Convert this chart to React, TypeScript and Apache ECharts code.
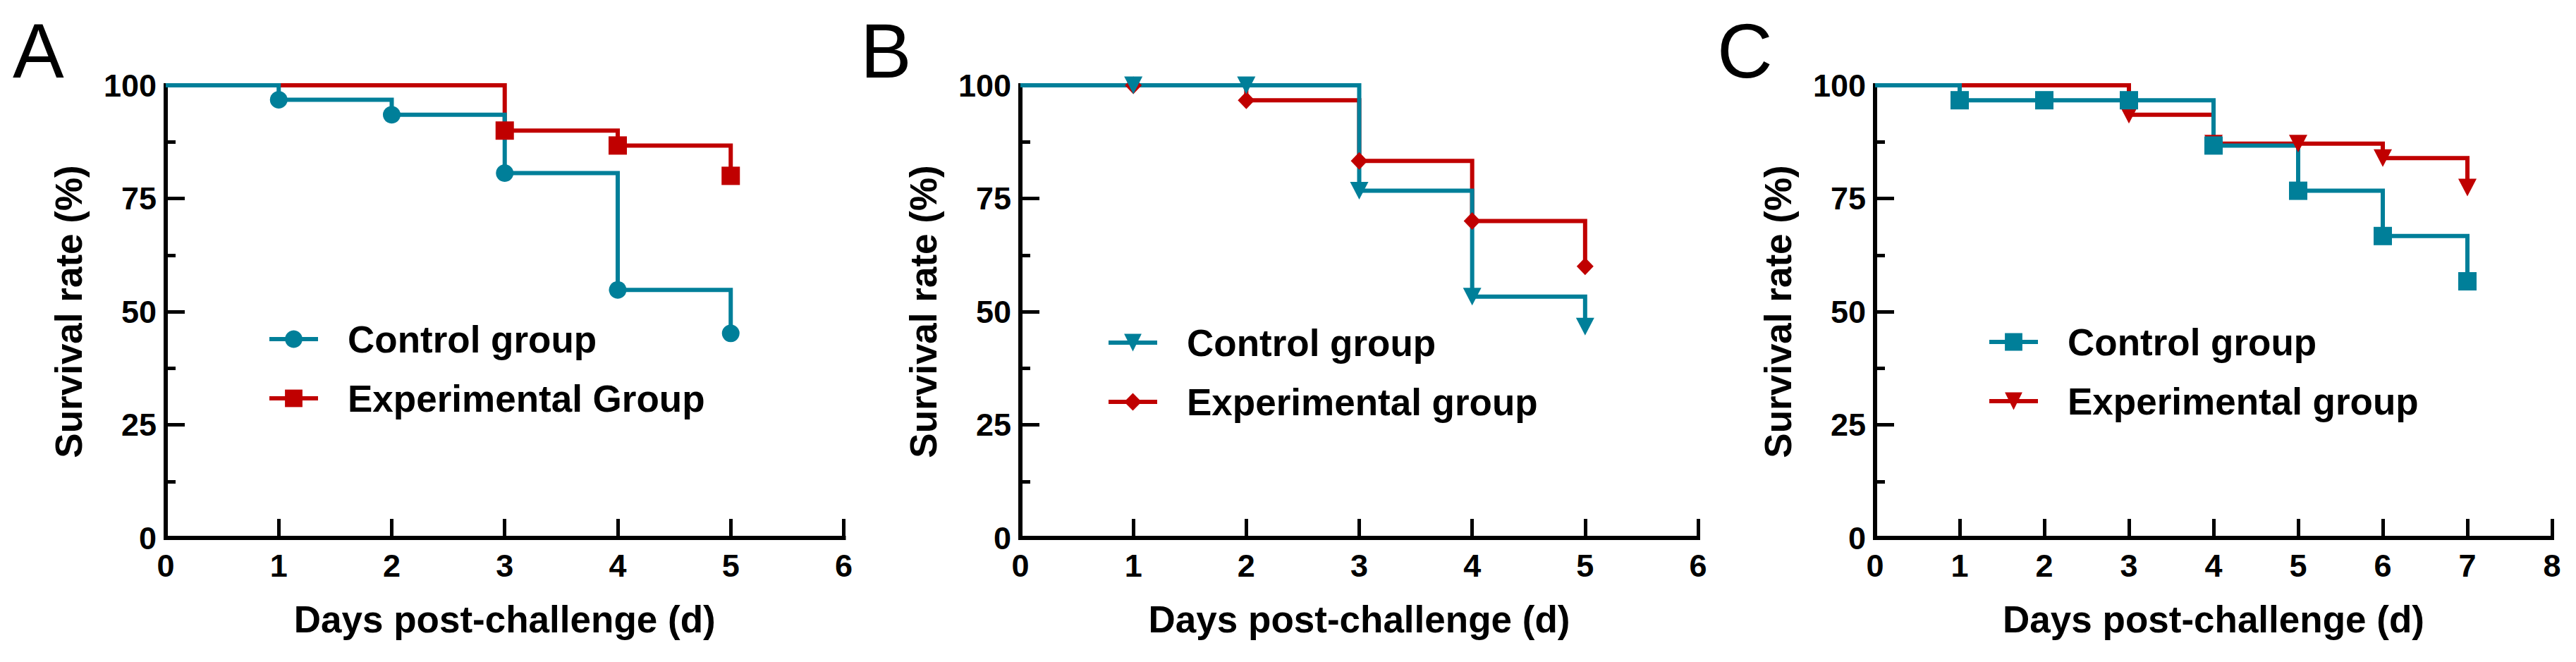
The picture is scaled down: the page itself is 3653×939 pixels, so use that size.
import React, { useEffect, useRef } from "react";
import * as echarts from "echarts";

const TEAL = "#007f99";
const RED = "#c00000";
const FONT = '"Liberation Sans", Arial, Helvetica, sans-serif';

// panel A
const controlDaysA = [0, 1, 2, 3, 4, 5];
const controlA = [100, 96.8, 93.5, 80.6, 54.8, 45.2];
const experimentalDaysA = [0, 3, 4, 5];
const experimentalA = [100, 90, 86.7, 80];
const legendA = ["Control group", "Experimental Group"];

// panel B
const controlDaysB = [0, 1, 2, 3, 4, 5];
const controlB = [100, 100, 100, 76.7, 53.3, 46.7];
const experimentalDaysB = [0, 1, 2, 3, 4, 5];
const experimentalB = [100, 100, 96.7, 83.3, 70, 60];
const legendB = ["Control group", "Experimental group"];

// panel C
const controlDaysC = [0, 1, 2, 3, 4, 5, 6, 7];
const controlC = [100, 96.7, 96.7, 96.7, 86.7, 76.7, 66.7, 56.7];
const experimentalDaysC = [0, 3, 4, 5, 6, 7];
const experimentalC = [100, 93.5, 87.1, 87.1, 83.9, 77.4];
const legendC = ["Control group", "Experimental group"];

const xMaxA = 6;
const xMaxB = 6;
const xMaxC = 8;

const TRIANGLE_DOWN = "path://M0,0L26,0L13,24Z";

function stepSeries(
  name: string,
  days: number[],
  values: number[],
  color: string,
  symbol: string,
  symbolSize: number | number[]
) {
  return {
    name,
    type: "line",
    step: "end",
    clip: false,
    data: days.map((d, i) =>
      i === 0 ? { value: [d, values[i]], symbol: "none" } : [d, values[i]]
    ),
    symbol,
    symbolSize,
    showSymbol: true,
    lineStyle: { color, width: 6, join: "miter" },
    itemStyle: { color },
    emphasis: { disabled: true },
  };
}

interface PanelProps {
  left: number;
  width: number;
  letter: string;
  letterX: number;
  xMax: number;
  plotWidth: number;
  legendNames: string[];
  legendLeft: number;
  legendTop: number;
  series: any[];
}

function Panel({
  left,
  width,
  letter,
  letterX,
  xMax,
  plotWidth,
  legendNames,
  legendLeft,
  legendTop,
  series,
}: PanelProps) {
  const chartRef = useRef<HTMLDivElement>(null);

  useEffect(() => {
    if (!chartRef.current) return;
    const chart = echarts.init(chartRef.current, null, { renderer: "svg" });

    const axisText = {
      fontFamily: FONT,
      fontSize: 45,
      fontWeight: "bold",
      color: "#000",
    };
    const nameText = {
      fontFamily: FONT,
      fontSize: 53,
      fontWeight: "bold",
      color: "#000",
    };

    const option: any = {
      animation: false,
      grid: { left: 235, top: 121, width: plotWidth, height: 642 },
      graphic: [
        {
          type: "text",
          x: letterX,
          y: 71.5,
          style: {
            text: letter,
            fontFamily: FONT,
            fontSize: 109,
            fontWeight: "normal",
            fill: "#000",
            align: "left",
            verticalAlign: "middle",
          },
        },
      ],
      legend: {
        data: legendNames,
        orient: "vertical",
        left: legendLeft,
        top: legendTop,
        itemWidth: 69,
        itemHeight: 31,
        itemGap: 24,
        padding: 0,
        selectedMode: false,
        lineStyle: { width: 6 },
        textStyle: {
          ...nameText,
          lineHeight: 60,
          padding: [0, 0, 0, 37],
        },
      },
      xAxis: {
        type: "value",
        min: 0,
        max: xMax,
        interval: 1,
        name: "Days post-challenge (d)",
        nameLocation: "middle",
        nameGap: 89,
        nameTextStyle: nameText,
        axisLine: {
          show: true,
          onZero: false,
          lineStyle: { color: "#000", width: 6, cap: "square" },
        },
        axisTick: {
          show: true,
          inside: true,
          length: 27,
          lineStyle: { color: "#000", width: 5 },
        },
        axisLabel: { ...axisText, margin: 17 },
        splitLine: { show: false },
      },
      yAxis: {
        type: "value",
        min: 0,
        max: 100,
        interval: 25,
        name: "Survival rate (%)",
        nameLocation: "middle",
        nameRotate: 90,
        nameGap: 111,
        nameTextStyle: nameText,
        axisLine: {
          show: true,
          lineStyle: { color: "#000", width: 6, cap: "square" },
        },
        axisTick: {
          show: true,
          inside: true,
          length: 27,
          lineStyle: { color: "#000", width: 5 },
        },
        minorTick: {
          show: true,
          splitNumber: 2,
          length: 14,
          lineStyle: { color: "#000", width: 5 },
        },
        axisLabel: { ...axisText, margin: 13 },
        splitLine: { show: false },
      },
      series,
    };

    chart.setOption(option);
    return () => {
      chart.dispose();
    };
  }, []);

  return (
    <div
      ref={chartRef}
      style={{ position: "absolute", left, top: 0, width, height: 939 }}
    />
  );
}

export default function App() {
  const seriesA = [
    stepSeries(legendA[1], experimentalDaysA, experimentalA, RED, "rect", 26),
    stepSeries(legendA[0], controlDaysA, controlA, TEAL, "circle", 25),
  ];
  const seriesB = [
    stepSeries(legendB[1], experimentalDaysB, experimentalB, RED, "diamond", [24, 25]),
    stepSeries(legendB[0], controlDaysB, controlB, TEAL, TRIANGLE_DOWN, [26, 25]),
  ];
  const seriesC = [
    stepSeries(legendC[1], experimentalDaysC, experimentalC, RED, TRIANGLE_DOWN, [26, 25]),
    stepSeries(legendC[0], controlDaysC, controlC, TEAL, "rect", 26),
  ];

  return (
    <div
      style={{
        position: "absolute",
        left: 0,
        top: 0,
        width: 3653,
        height: 939,
        background: "#fff",
        overflow: "hidden",
      }}
    >
      <Panel
        left={0}
        width={1212}
        letter="A"
        letterX={18}
        xMax={xMaxA}
        plotWidth={962}
        legendNames={legendA}
        legendLeft={379}
        legendTop={451}
        series={seriesA}
      />
      <Panel
        left={1212}
        width={1212}
        letter="B"
        letterX={8}
        xMax={xMaxB}
        plotWidth={961}
        legendNames={legendB}
        legendLeft={357}
        legendTop={456}
        series={seriesB}
      />
      <Panel
        left={2424}
        width={1229}
        letter="C"
        letterX={11}
        xMax={xMaxC}
        plotWidth={960}
        legendNames={legendC}
        legendLeft={394}
        legendTop={455}
        series={seriesC}
      />
    </div>
  );
}
